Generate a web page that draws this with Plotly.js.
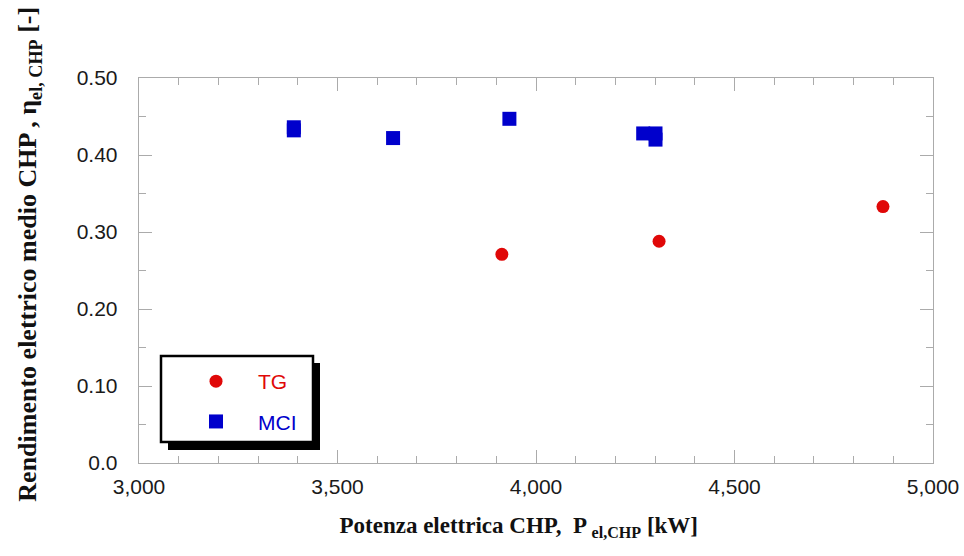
<!DOCTYPE html>
<html>
<head>
<meta charset="utf-8">
<script src="https://cdn.plot.ly/plotly-3.0.1.min.js"></script>
<style>html,body{margin:0;padding:0;background:#fff;}#chart{width:964px;height:556px;}</style>
</head>
<body>
<div id="chart"></div>
<script>
// Data
var tgPower = [3914, 4310, 4874];
var tgEff = [0.271, 0.288, 0.333];
var mciPower = [3390, 3390, 3640, 3933, 4270, 4301, 4301];
var mciEff = [0.436, 0.432, 0.422, 0.447, 0.428, 0.428, 0.420];
var xTickVals = [3000, 3500, 4000, 4500, 5000];
var xTickText = ["3,000", "3,500", "4,000", "4,500", "5,000"];
var yTickVals = [0, 0.1, 0.2, 0.3, 0.4, 0.5];
var yTickText = ["0.0", "0.10", "0.20", "0.30", "0.40", "0.50"];
var seriesNames = ["TG", "MCI"];

var red = "#e00808", blue = "#0000cc", frame = "#ababab";

var traces = [
  {x: tgPower, y: tgEff, type: "scatter", mode: "markers", name: '<span style="color:' + red + '">' + seriesNames[0] + '</span>',
   legendgroup: "a", marker: {symbol: "circle", size: 13, color: red}},
  {x: mciPower, y: mciEff, type: "scatter", mode: "markers", name: '<span style="color:' + blue + '">' + seriesNames[1] + '</span>',
   legendgroup: "b", marker: {symbol: "square", size: 14, color: blue}}
];

var L = 139, R = 933, T = 78, B = 463, W = 964, H = 556;
function px(v){ return (v - L) / (R - L); }
function py(v){ return (B - v) / (B - T); }

var tickFont = {family: "Liberation Sans, Arial, sans-serif", size: 21, color: "#1a1a1a"};
var titleFont = {family: "Liberation Serif, Times New Roman, serif", size: 23, color: "#111"};
var yTitleFont = {family: "Liberation Serif, Times New Roman, serif", size: 26, color: "#111"};
var sp = function(n){ return new Array(n + 1).join("&nbsp;"); };

var layout = {
  width: W, height: H,
  margin: {l: L, r: W - R, t: T, b: H - B},
  paper_bgcolor: "#fff", plot_bgcolor: "#fff",
  showlegend: true,
  legend: {x: px(174), y: py(361), xanchor: "left", yanchor: "top", bgcolor: "rgba(0,0,0,0)", borderwidth: 0,
           font: {family: "Liberation Sans, Arial, sans-serif", size: 21}, tracegroupgap: 10, itemwidth: 74, traceorder: "grouped"},
  xaxis: {
    range: [3000, 5000], tickmode: "array", tickvals: xTickVals, ticktext: xTickText,
    showgrid: false, zeroline: false, showline: true, linecolor: frame, linewidth: 1.3, mirror: "ticks",
    ticks: "inside", ticklen: 13, tickcolor: frame, tickwidth: 1, tickfont: tickFont, ticklabelstandoff: 4,
    minor: {dtick: 100, tick0: 3000, ticks: "inside", ticklen: 7, tickcolor: frame, tickwidth: 1, showgrid: false},
    title: {text: "<b>Potenza elettrica CHP,  P <sub>el,CHP</sub> [kW]" + sp(6) + "</b>", font: titleFont, standoff: 20}
  },
  yaxis: {
    range: [0, 0.5], tickmode: "array", tickvals: yTickVals, ticktext: yTickText,
    showgrid: false, zeroline: false, showline: true, linecolor: frame, linewidth: 1.3, mirror: "ticks",
    ticks: "inside", ticklen: 13, tickcolor: frame, tickwidth: 1, tickfont: tickFont, ticklabelstandoff: 16,
    minor: {dtick: 0.05, tick0: 0, ticks: "inside", ticklen: 7, tickcolor: frame, tickwidth: 1, showgrid: false},
    title: {text: "<b>" + sp(5) + "Rendimento elettrico medio CHP , η<sub>el, CHP</sub> [-]</b>", font: yTitleFont, standoff: 32}
  },
  shapes: [
    {type: "rect", xref: "paper", yref: "paper", x0: px(168), x1: px(320), y0: py(363), y1: py(450),
     fillcolor: "#000", line: {width: 0}, layer: "above"},
    {type: "rect", xref: "paper", yref: "paper", x0: px(161), x1: px(313), y0: py(356), y1: py(442),
     fillcolor: "#fff", line: {color: "#000", width: 2.5}, layer: "above"}
  ]
};

Plotly.newPlot("chart", traces, layout, {displayModeBar: false, staticPlot: true});
</script>
</body>
</html>
